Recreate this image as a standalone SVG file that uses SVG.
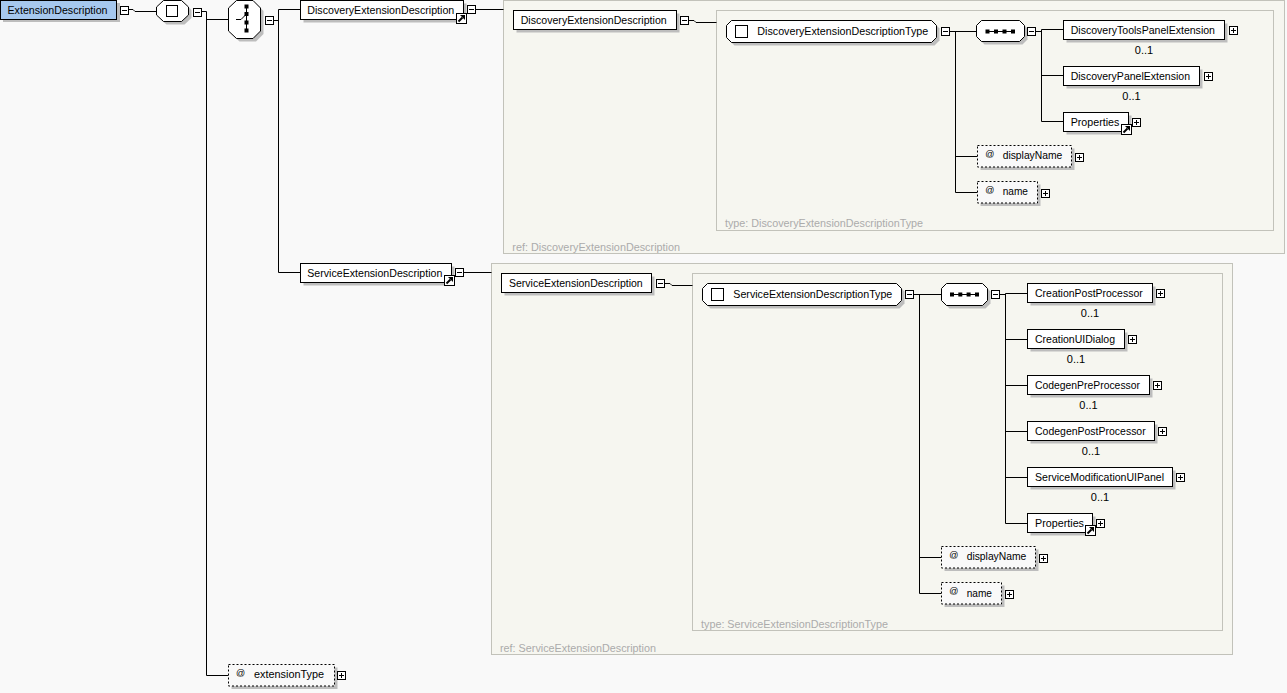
<svg xmlns="http://www.w3.org/2000/svg" xmlns:xlink="http://www.w3.org/1999/xlink" width="1287" height="693" viewBox="0 0 1287 693">
<style>
.t{font-family:"Liberation Sans",Arial,sans-serif;font-size:11px;fill:#000}
.g{font-family:"Liberation Sans",Arial,sans-serif;font-size:11px;fill:#ababab}
.at{font-family:"Liberation Sans",Arial,sans-serif;font-size:9px;fill:#000}
.box{fill:#fff;stroke:#000;stroke-width:1}
.sh{fill:#bdbdbd}
.att{fill:#f9f9f9;stroke:#000;stroke-width:1;stroke-dasharray:2 2}
.c{fill:none;stroke:#000;stroke-width:1}
.ct{fill:#f6f6f0;stroke:#c2c2ba;stroke-width:1}
.dot{fill:#000}
</style>
<defs>
<g id="minus"><rect x="0.5" y="0.5" width="8" height="8" fill="#fff" stroke="#000"/><path d="M2 4.5H7" stroke="#000"/></g>
<g id="plus"><rect x="0.5" y="0.5" width="8" height="8" fill="#fff" stroke="#000"/><path d="M2 4.5H7M4.5 2V7" stroke="#000"/></g>
<g id="refarrow"><rect x="0.5" y="0.5" width="10" height="10" fill="#fff" stroke="#000"/><path d="M2.5 8.5L6.5 4.5" stroke="#000" stroke-width="2"/><path d="M4 2H9V7Z" fill="#000"/></g>
</defs>
<rect x="0" y="0" width="1287" height="693" fill="#f9f9f9"/>

<g id="containers">
<rect class="ct" x="503.5" y="0.5" width="781" height="253"/>
<text class="g" x="512.3" y="250.7" textLength="167.7" lengthAdjust="spacingAndGlyphs">ref: DiscoveryExtensionDescription</text>
<rect class="ct" x="716.5" y="10.5" width="557" height="220"/>
<text class="g" x="725" y="227.3" textLength="198" lengthAdjust="spacingAndGlyphs">type: DiscoveryExtensionDescriptionType</text>
<rect class="ct" x="491.5" y="263.5" width="741" height="391"/>
<text class="g" x="500" y="651.7" textLength="156" lengthAdjust="spacingAndGlyphs">ref: ServiceExtensionDescription</text>
<rect class="ct" x="692.5" y="273.5" width="530" height="357"/>
<text class="g" x="701" y="627.7" textLength="187" lengthAdjust="spacingAndGlyphs">type: ServiceExtensionDescriptionType</text>
</g>

<g id="connectors" class="c">
<path d="M128.5 9.5H133L135 11.5H156.5"/>
<path d="M201.5 11.5H206.5V675.5H228.5M206.5 19.5H228.5"/>
<path d="M273.5 20.5H278.5M278.5 9.5V272.5M278.5 9.5H300.5M278.5 272.5H300.5"/>
<path d="M475.5 9.5H503.5"/>
<path d="M688.5 20.5H694L696 22.5H716.5"/>
<path d="M949.5 31.5H976.5M955.5 31.5V192.5M955.5 156.5H977.5M955.5 192.5H977.5"/>
<path d="M1035.5 31.5H1041.5M1041.5 29.5V121.5M1041.5 29.5H1063.5M1041.5 75.5H1063.5M1041.5 121.5H1063.5"/>
<path d="M463.5 272.5H491.5"/>
<path d="M664.5 283.5H670L672 285.5H692.5"/>
<path d="M913.5 294.5H941.5M919.5 294.5V593.5M919.5 557.5H941.5M919.5 593.5H941.5"/>
<path d="M999.5 294.5H1005.5M1005.5 293.5V523.5M1005.5 293.5H1027.5M1005.5 339.5H1027.5M1005.5 385.5H1027.5M1005.5 431.5H1027.5M1005.5 477.5H1027.5M1005.5 523.5H1027.5"/>
</g>

<g id="ExtensionDescription">
<rect class="sh" x="3" y="3" width="117" height="19"/>
<rect x="0.5" y="0.5" width="116" height="19" fill="#a6c8ee" stroke="#000"/>
<text class="t" x="7.5" y="14" textLength="100" lengthAdjust="spacingAndGlyphs">ExtensionDescription</text>
<use href="#minus" x="120" y="6"/>
</g>

<g id="all">
<polygon class="sh" transform="translate(3,3)" points="163.5,0.5 181.5,0.5 188.5,7 188.5,15 181.5,21.5 163.5,21.5 156.5,15 156.5,7"/>
<polygon class="box" points="163.5,0.5 181.5,0.5 188.5,7 188.5,15 181.5,21.5 163.5,21.5 156.5,15 156.5,7"/>
<rect class="box" x="166.5" y="5.5" width="11" height="11"/>
<use href="#minus" x="193" y="8"/>
</g>

<g id="choice">
<polygon class="sh" transform="translate(3,3)" points="236.5,0.5 253,0.5 260.5,8 260.5,31 253,38.5 236.5,38.5 228.5,31 228.5,8"/>
<polygon class="box" points="236.5,0.5 253,0.5 260.5,8 260.5,31 253,38.5 236.5,38.5 228.5,31 228.5,8"/>
<path class="c" d="M246.5 6.5V30.5M236 19.5H241L246.5 14"/>
<rect class="dot" x="244.5" y="4.5" width="4" height="4"/>
<rect class="dot" x="244.5" y="12" width="4" height="4"/>
<rect class="dot" x="244.5" y="20.5" width="4" height="4"/>
<rect class="dot" x="244.5" y="28.5" width="4" height="4"/>
<use href="#minus" x="265" y="16"/>
</g>

<g id="DiscoveryExtensionDescription">
<rect class="sh" x="303.5" y="3.5" width="163" height="19"/>
<rect class="box" x="300.5" y="0.5" width="163" height="19"/>
<text class="t" x="307.3" y="14" textLength="147" lengthAdjust="spacingAndGlyphs">DiscoveryExtensionDescription</text>
<use href="#refarrow" x="456" y="13"/>
<use href="#minus" x="467" y="5"/>
</g>

<g id="DiscoveryExtensionDescription-ref">
<rect class="sh" x="516.5" y="13.5" width="163" height="19"/>
<rect class="box" x="513.5" y="10.5" width="163" height="19"/>
<text class="t" x="520.7" y="24" textLength="146" lengthAdjust="spacingAndGlyphs">DiscoveryExtensionDescription</text>
<use href="#minus" x="680" y="16"/>
</g>

<g id="DiscoveryExtensionDescriptionType">
<polygon class="sh" transform="translate(3,3)" points="731.5,20.5 931.5,20.5 936.5,25.5 936.5,37.5 931.5,42.5 731.5,42.5 726.5,37.5 726.5,25.5"/>
<polygon class="box" points="731.5,20.5 931.5,20.5 936.5,25.5 936.5,37.5 931.5,42.5 731.5,42.5 726.5,37.5 726.5,25.5"/>
<rect class="box" x="735.5" y="25.5" width="12" height="12"/>
<text class="t" x="757.3" y="35" textLength="171" lengthAdjust="spacingAndGlyphs">DiscoveryExtensionDescriptionType</text>
<use href="#minus" x="941" y="27"/>
</g>

<g id="DiscoverySequence">
<polygon class="sh" transform="translate(3,3)" points="981.5,20.5 1019.5,20.5 1024.5,25.5 1024.5,36.5 1019.5,41.5 981.5,41.5 976.5,36.5 976.5,25.5"/>
<polygon class="box" points="981.5,20.5 1019.5,20.5 1024.5,25.5 1024.5,36.5 1019.5,41.5 981.5,41.5 976.5,36.5 976.5,25.5"/>
<path class="c" d="M986 31.5H1015"/>
<rect class="dot" x="985.5" y="29.5" width="4" height="4"/>
<rect class="dot" x="994" y="29.5" width="4" height="4"/>
<rect class="dot" x="1002.5" y="29.5" width="4" height="4"/>
<rect class="dot" x="1011" y="29.5" width="4" height="4"/>
<use href="#minus" x="1027" y="27"/>
</g>

<g id="DiscoveryToolsPanelExtension">
<rect class="sh" x="1066.5" y="23.5" width="161" height="19"/>
<rect class="box" x="1063.5" y="20.5" width="161" height="19"/>
<text class="t" x="1070.7" y="34" textLength="144.3" lengthAdjust="spacingAndGlyphs">DiscoveryToolsPanelExtension</text>
<use href="#plus" x="1229" y="26"/>
<text class="t" x="1144" y="54" text-anchor="middle">0..1</text>
</g>

<g id="DiscoveryPanelExtension">
<rect class="sh" x="1066.5" y="69.5" width="136" height="19"/>
<rect class="box" x="1063.5" y="66.5" width="136" height="19"/>
<text class="t" x="1070.7" y="80" textLength="119.3" lengthAdjust="spacingAndGlyphs">DiscoveryPanelExtension</text>
<use href="#plus" x="1204" y="72"/>
<text class="t" x="1131.5" y="100" text-anchor="middle">0..1</text>
</g>

<g id="DiscoveryProperties">
<rect class="sh" x="1066.5" y="115.5" width="65" height="19"/>
<rect class="box" x="1063.5" y="112.5" width="65" height="19"/>
<text class="t" x="1070.7" y="126" textLength="48.6" lengthAdjust="spacingAndGlyphs">Properties</text>
<use href="#refarrow" x="1121" y="124"/>
<use href="#plus" x="1132" y="118"/>
</g>

<g id="DiscoveryDisplayName">
<rect class="sh" x="980.5" y="148.5" width="94" height="21.5"/>
<rect class="att" x="977.5" y="145.5" width="94" height="21.5"/>
<text class="at" x="985.3" y="156.5">@</text>
<text class="t" x="1002.7" y="158.8" textLength="59.6" lengthAdjust="spacingAndGlyphs">displayName</text>
<use href="#plus" x="1075" y="153"/>
</g>

<g id="DiscoveryName">
<rect class="sh" x="980.5" y="184.5" width="60" height="21.5"/>
<rect class="att" x="977.5" y="181.5" width="60" height="21.5"/>
<text class="at" x="985.3" y="192.5">@</text>
<text class="t" x="1002.7" y="194.8" textLength="25.3" lengthAdjust="spacingAndGlyphs">name</text>
<use href="#plus" x="1041" y="189"/>
</g>

<g id="ServiceExtensionDescription">
<rect class="sh" x="303.5" y="266.5" width="151" height="19"/>
<rect class="box" x="300.5" y="263.5" width="151" height="19"/>
<text class="t" x="307.3" y="276.7" textLength="135" lengthAdjust="spacingAndGlyphs">ServiceExtensionDescription</text>
<use href="#refarrow" x="444" y="275"/>
<use href="#minus" x="455" y="268"/>
</g>

<g id="ServiceExtensionDescription-ref">
<rect class="sh" x="504.5" y="276.5" width="150" height="19"/>
<rect class="box" x="501.5" y="273.5" width="150" height="19"/>
<text class="t" x="509" y="286.7" textLength="133.7" lengthAdjust="spacingAndGlyphs">ServiceExtensionDescription</text>
<use href="#minus" x="656" y="279"/>
</g>

<g id="ServiceExtensionDescriptionType">
<polygon class="sh" transform="translate(3,3)" points="707.5,283.5 896.5,283.5 901.5,288.5 901.5,300.5 896.5,305.5 707.5,305.5 702.5,300.5 702.5,288.5"/>
<polygon class="box" points="707.5,283.5 896.5,283.5 901.5,288.5 901.5,300.5 896.5,305.5 707.5,305.5 702.5,300.5 702.5,288.5"/>
<rect class="box" x="711.5" y="288.5" width="12" height="12"/>
<text class="t" x="733.3" y="297.7" textLength="159" lengthAdjust="spacingAndGlyphs">ServiceExtensionDescriptionType</text>
<use href="#minus" x="905" y="290"/>
</g>

<g id="ServiceSequence">
<polygon class="sh" transform="translate(3,3)" points="946.5,283.5 982.5,283.5 987.5,288.5 987.5,300.5 982.5,305.5 946.5,305.5 941.5,300.5 941.5,288.5"/>
<polygon class="box" points="946.5,283.5 982.5,283.5 987.5,288.5 987.5,300.5 982.5,305.5 946.5,305.5 941.5,300.5 941.5,288.5"/>
<path class="c" d="M950.5 294.5H979"/>
<rect class="dot" x="950" y="292.5" width="4" height="4"/>
<rect class="dot" x="958.3" y="292.5" width="4" height="4"/>
<rect class="dot" x="966.6" y="292.5" width="4" height="4"/>
<rect class="dot" x="975" y="292.5" width="4" height="4"/>
<use href="#minus" x="991" y="290"/>
</g>

<g id="CreationPostProcessor">
<rect class="sh" x="1030.5" y="286.5" width="125" height="19"/>
<rect class="box" x="1027.5" y="283.5" width="125" height="19"/>
<text class="t" x="1035" y="296.7" textLength="107.7" lengthAdjust="spacingAndGlyphs">CreationPostProcessor</text>
<use href="#plus" x="1156" y="289"/>
<text class="t" x="1090" y="316.7" text-anchor="middle">0..1</text>
</g>

<g id="CreationUIDialog">
<rect class="sh" x="1030.5" y="332.5" width="97" height="19"/>
<rect class="box" x="1027.5" y="329.5" width="97" height="19"/>
<text class="t" x="1035" y="343" textLength="80" lengthAdjust="spacingAndGlyphs">CreationUIDialog</text>
<use href="#plus" x="1128" y="335"/>
<text class="t" x="1076" y="362.7" text-anchor="middle">0..1</text>
</g>

<g id="CodegenPreProcessor">
<rect class="sh" x="1030.5" y="378.5" width="122" height="19"/>
<rect class="box" x="1027.5" y="375.5" width="122" height="19"/>
<text class="t" x="1035" y="389" textLength="105" lengthAdjust="spacingAndGlyphs">CodegenPreProcessor</text>
<use href="#plus" x="1153" y="381"/>
<text class="t" x="1088.5" y="408.7" text-anchor="middle">0..1</text>
</g>

<g id="CodegenPostProcessor">
<rect class="sh" x="1030.5" y="424.5" width="127" height="19"/>
<rect class="box" x="1027.5" y="421.5" width="127" height="19"/>
<text class="t" x="1035" y="435" textLength="110.7" lengthAdjust="spacingAndGlyphs">CodegenPostProcessor</text>
<use href="#plus" x="1158" y="427"/>
<text class="t" x="1091" y="454.5" text-anchor="middle">0..1</text>
</g>

<g id="ServiceModificationUIPanel">
<rect class="sh" x="1030.5" y="470.5" width="145" height="19"/>
<rect class="box" x="1027.5" y="467.5" width="145" height="19"/>
<text class="t" x="1035" y="481" textLength="129" lengthAdjust="spacingAndGlyphs">ServiceModificationUIPanel</text>
<use href="#plus" x="1176" y="473"/>
<text class="t" x="1100" y="500.5" text-anchor="middle">0..1</text>
</g>

<g id="ServiceProperties">
<rect class="sh" x="1030.5" y="516.5" width="65" height="19"/>
<rect class="box" x="1027.5" y="513.5" width="65" height="19"/>
<text class="t" x="1035" y="527" textLength="49" lengthAdjust="spacingAndGlyphs">Properties</text>
<use href="#refarrow" x="1085" y="525"/>
<use href="#plus" x="1096" y="519"/>
</g>

<g id="ServiceDisplayName">
<rect class="sh" x="944.5" y="549.5" width="94" height="21.5"/>
<rect class="att" x="941.5" y="546.5" width="94" height="21.5"/>
<text class="at" x="949.3" y="557.5">@</text>
<text class="t" x="966.7" y="560" textLength="59.6" lengthAdjust="spacingAndGlyphs">displayName</text>
<use href="#plus" x="1039" y="554"/>
</g>

<g id="ServiceName">
<rect class="sh" x="944.5" y="585.5" width="60" height="21.5"/>
<rect class="att" x="941.5" y="582.5" width="60" height="21.5"/>
<text class="at" x="949.3" y="593.5">@</text>
<text class="t" x="966.7" y="596.7" textLength="25.3" lengthAdjust="spacingAndGlyphs">name</text>
<use href="#plus" x="1005" y="590"/>
</g>

<g id="extensionType">
<rect class="sh" x="231.5" y="667.5" width="106" height="21.5"/>
<rect class="att" x="228.5" y="664.5" width="106" height="21.5"/>
<text class="at" x="236" y="676">@</text>
<text class="t" x="254" y="678.3" textLength="70" lengthAdjust="spacingAndGlyphs">extensionType</text>
<use href="#plus" x="337" y="671"/>
</g>
</svg>
